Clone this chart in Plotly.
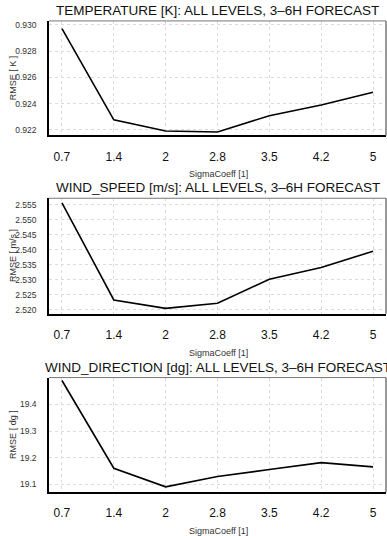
import plotly.graph_objects as go

W, H = 387, 536

categories = ["0.7", "1.4", "2", "2.8", "3.5", "4.2", "5"]

temp_rmse = [0.92971, 0.92277, 0.92192, 0.92185, 0.92309, 0.92390, 0.92487]
speed_rmse = [2.5556, 2.5233, 2.5205, 2.5222, 2.5302, 2.5341, 2.5395]
dir_rmse = [19.490, 19.160, 19.090, 19.129, 19.155, 19.181, 19.165]

titles = [
    "TEMPERATURE [K]: ALL LEVELS, 3\u20136H FORECAST",
    "WIND_SPEED [m/s]: ALL LEVELS, 3\u20136H FORECAST",
    "WIND_DIRECTION [dg]: ALL LEVELS, 3\u20136H FORECAST",
]
ytitles = ["RMSE [ K ]", "RMSE [ m/s ]", "RMSE [ dg ]"]
xtitle = "SigmaCoeff [1]"

temp_ticks = [0.922, 0.924, 0.926, 0.928, 0.930]
temp_ticktext = ["0.922", "0.924", "0.926", "0.928", "0.930"]
speed_ticks = [2.520, 2.525, 2.530, 2.535, 2.540, 2.545, 2.550, 2.555]
speed_ticktext = ["2.520", "2.525", "2.530", "2.535", "2.540", "2.545", "2.550", "2.555"]
dir_ticks = [19.1, 19.2, 19.3, 19.4]
dir_ticktext = ["19.1", "19.2", "19.3", "19.4"]

series = [temp_rmse, speed_rmse, dir_rmse]
yticks = [(temp_ticks, temp_ticktext), (speed_ticks, speed_ticktext), (dir_ticks, dir_ticktext)]
yranges = [[0.92158, 0.93030], [2.5187, 2.5571], [19.070, 19.501]]

# pixel layout of the three panels (top, bottom)
panels_px = [(20, 135), (198, 314), (378, 493)]
xtitle_px = [174, 353, 532]
left_px, right_px = 49, 386

FONT = "Liberation Sans, Arial, Helvetica, sans-serif"

fig = go.Figure()
layout = dict(
    width=W, height=H,
    margin=dict(l=0, r=0, t=0, b=0),
    paper_bgcolor="white", plot_bgcolor="white",
    showlegend=False,
    font=dict(family=FONT, color="#222"),
)
annotations = []
shapes = []

xdom = [left_px / W, right_px / W]
for i, (vals, (tv, tt), yr) in enumerate(zip(series, yticks, yranges)):
    top, bot = panels_px[i]
    ydom = [1 - bot / H, 1 - top / H]
    xa = "xaxis" if i == 0 else f"xaxis{i+1}"
    ya = "yaxis" if i == 0 else f"yaxis{i+1}"
    xr = "x" if i == 0 else f"x{i+1}"
    yrf = "y" if i == 0 else f"y{i+1}"
    fig.add_trace(go.Scatter(
        x=list(range(len(categories))), y=vals, mode="lines",
        line=dict(color="black", width=1.6),
        xaxis=xr, yaxis=yrf, hoverinfo="skip",
    ))
    layout[xa] = dict(
        domain=xdom, anchor=yrf, range=[-0.25, 6.25],
        tickmode="array", tickvals=list(range(len(categories))), ticktext=categories,
        showgrid=True, gridcolor="#dcdcdc", griddash="dot", gridwidth=1,
        showline=True, linecolor="black", linewidth=1.5,
        ticks="outside", ticklen=9, tickcolor="rgba(0,0,0,0)",
        tickfont=dict(size=12, color="#111", family=FONT),
        zeroline=False, fixedrange=True,
    )
    layout[ya] = dict(
        domain=ydom, anchor=xr, range=yr,
        tickmode="array", tickvals=tv, ticktext=tt,
        showgrid=True, gridcolor="#dcdcdc", griddash="dot", gridwidth=1,
        showline=True, linecolor="black", linewidth=1.5,
        ticks="outside", ticklen=9, tickcolor="rgba(0,0,0,0)",
        tickfont=dict(size=8.5, color="#333", family=FONT),
        zeroline=False, fixedrange=True,
    )
    # top & right frame lines (grey)
    shapes.append(dict(type="line", xref=f"{xr} domain", yref=f"{yrf} domain",
                       x0=0, x1=1, y0=1, y1=1, line=dict(color="#777", width=1)))
    shapes.append(dict(type="line", xref=f"{xr} domain", yref=f"{yrf} domain",
                       x0=1, x1=1, y0=0, y1=1, line=dict(color="#777", width=1.5)))
    # panel title
    annotations.append(dict(
        text=titles[i], xref="paper", yref="paper",
        x=(left_px + right_px) / 2 / W, y=1 - (top - 1) / H,
        xanchor="center", yanchor="bottom", showarrow=False,
        font=dict(size=13.5, color="#111", family=FONT),
    ))
    # y title
    annotations.append(dict(
        text=ytitles[i], xref="paper", yref="paper",
        x=13 / W, y=1 - (top + bot) / 2 / H, textangle=-90,
        xanchor="center", yanchor="middle", showarrow=False,
        font=dict(size=9, color="#333", family=FONT),
    ))
    # x title
    annotations.append(dict(
        text=xtitle, xref="paper", yref="paper",
        x=218 / W, y=1 - xtitle_px[i] / H,
        xanchor="center", yanchor="middle", showarrow=False,
        font=dict(size=9, color="#333", family=FONT),
    ))

layout["annotations"] = annotations
layout["shapes"] = shapes
fig.update_layout(**layout)
fig.write_html(
    "out.html",
    config={"displayModeBar": False},
    post_script="document.body.style.margin='0';document.body.style.overflow='hidden';",
)
